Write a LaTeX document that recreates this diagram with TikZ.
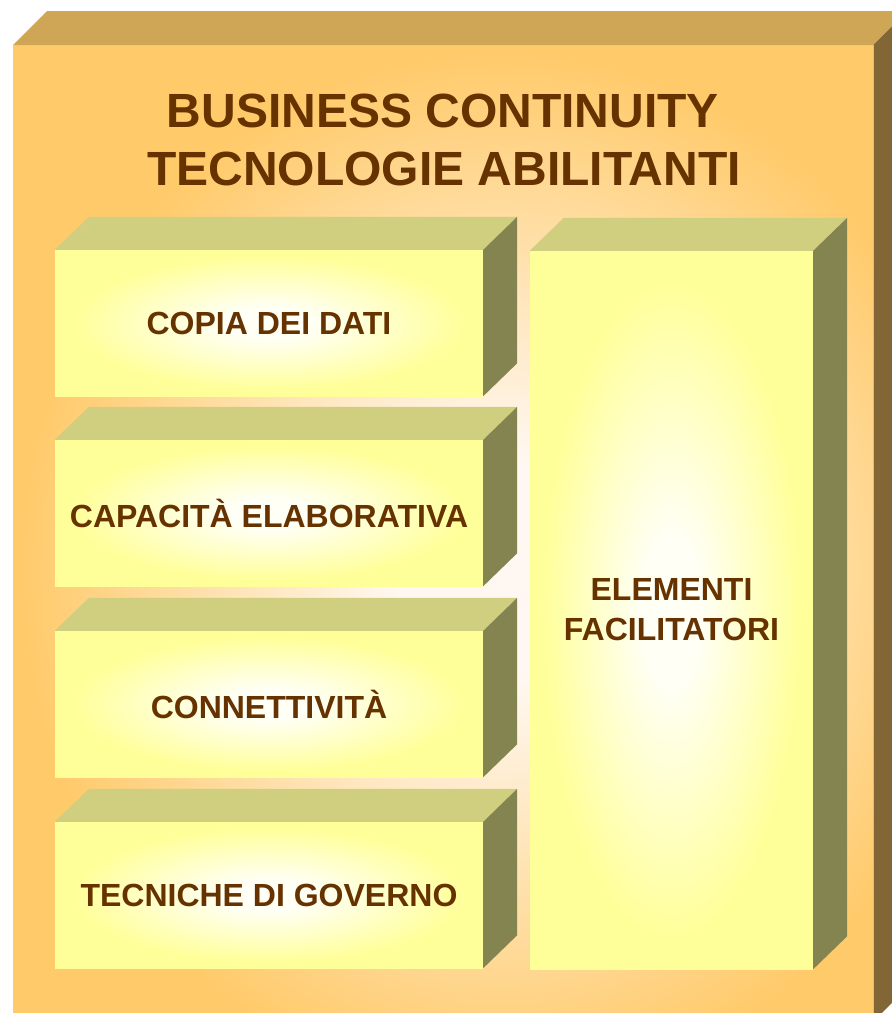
\documentclass[tikz,border=0pt]{standalone}
\usepackage{fontspec}
\setmainfont{Liberation Sans}
\usetikzlibrary{calc}
\definecolor{outerfront}{HTML}{FFCA6A}
\definecolor{outerglow}{HTML}{FFF8F2}
\definecolor{outertop}{HTML}{CFA656}
\definecolor{outerside}{HTML}{836635}
\definecolor{boxfront}{HTML}{FFFF99}
\definecolor{boxglow}{HTML}{FFFFF6}
\definecolor{boxtop}{HTML}{CFCF7F}
\definecolor{boxside}{HTML}{848450}
\definecolor{txt}{HTML}{663300}
\pgfdeclareradialshading{outerglowshade}{\pgfpoint{0bp}{0bp}}{color(0bp)=(outerglow); color(5bp)=(outerglow); color(24bp)=(outerfront); color(50bp)=(outerfront)}
\pgfdeclareradialshading{boxglowshade}{\pgfpoint{0bp}{0bp}}{color(0bp)=(boxglow); color(5bp)=(boxglow); color(23bp)=(boxfront); color(50bp)=(boxfront)}
\begin{document}
\begin{tikzpicture}[x=1pt,y=-1pt,
  framefront/.style={fill=outerfront, draw=none, inner sep=0pt, anchor=north west},
  frametop/.style={fill=outertop, draw=none},
  frameside/.style={fill=outerside, draw=none},
  cubefront/.style={shade, shading=boxglowshade, draw=none, inner sep=0pt,
    text=txt, align=center, font=\bfseries\fontsize{32}{40}\selectfont},
  cubetop/.style={fill=boxtop, draw=none},
  cubeside/.style={fill=boxside, draw=none},
  titletext/.style={text=txt, inner sep=0pt, anchor=base, font=\bfseries\fontsize{48}{58}\selectfont}]
\useasboundingbox (0,0) rectangle (892,1013);
\clip (0,0) rectangle (892,1013);

% outer frame
\node[framefront, minimum width=860, minimum height=976] (frame) at (13,45) {};
\begin{scope}
  \clip (frame.north west) rectangle (frame.south east);
  \shade[shading=outerglowshade] (0,30) rectangle (1000,1110);
\end{scope}
\fill[frametop] (frame.north west) -- ++(34,-34) -- ([shift={(34,-34)}]frame.north east) -- (frame.north east) -- cycle;
\fill[frameside] (frame.north east) -- ++(34,-34) -- ([shift={(34,-34)}]frame.south east) -- (frame.south east) -- cycle;
\draw[black!25, line width=1.2pt] (frame.north east) -- (frame.south east);

% title
\node[titletext] (t1) at (443,127) {BUSINESS CONTINUITY};
\node[titletext] (t2) at (444,185) {TECNOLOGIE ABILITANTI};

% left boxes
\node[cubefront, minimum width=428, minimum height=146] (b1) at (269,323) {COPIA DEI DATI};
\node[cubefront, minimum width=428, minimum height=146] (b2) at (269,513) {CAPACITÀ ELABORATIVA};
\node[cubefront, minimum width=428, minimum height=146] (b3) at (269,704) {CONNETTIVITÀ};
\node[cubefront, minimum width=428, minimum height=146] (b4) at (269,895) {TECNICHE DI GOVERNO};
% right tall box
\node[cubefront, minimum width=283, minimum height=718] (r) at (671.5,610) {ELEMENTI\\FACILITATORI};

\foreach \n in {b1,b2,b3,b4,r}{
  \fill[cubetop] (\n.north west) -- ++(34,-33) -- ([shift={(34,-33)}]\n.north east) -- (\n.north east) -- cycle;
  \fill[cubeside] (\n.north east) -- ++(34,-33) -- ([shift={(34,-33)}]\n.south east) -- (\n.south east) -- cycle;
}
\end{tikzpicture}
\end{document}
